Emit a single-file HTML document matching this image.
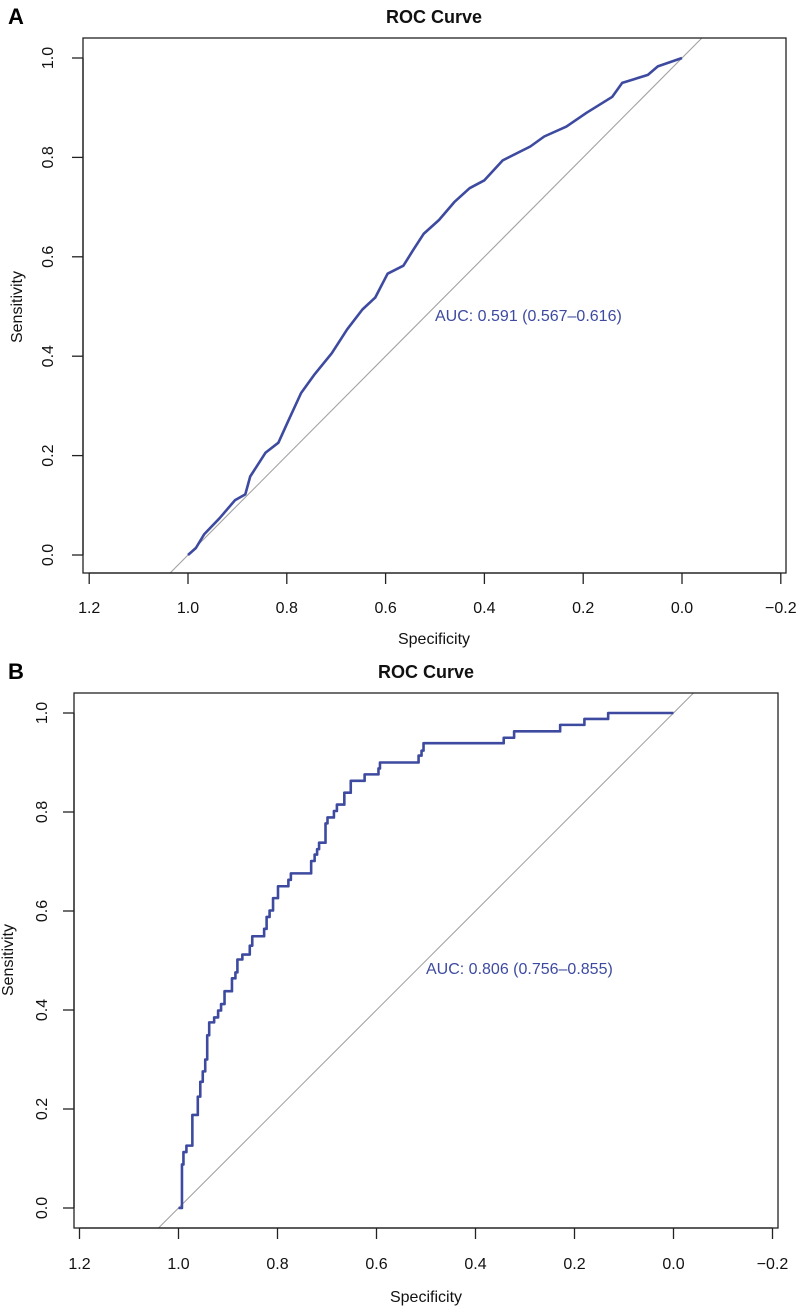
<!DOCTYPE html>
<html><head><meta charset="utf-8">
<style>
html,body{margin:0;padding:0;background:#fff;}
svg{display:block;font-family:"Liberation Sans",Arial,sans-serif;}
</style></head>
<body>
<svg id="fig" width="800" height="1306" viewBox="0 0 800 1306" xmlns="http://www.w3.org/2000/svg"></svg>
<script>
// Panel A data (specificity, sensitivity)
const specA = [1.0,0.984,0.967,0.936,0.905,0.884,0.874,0.843,0.817,0.797,0.771,0.745,0.709,0.678,0.647,0.621,0.596,0.564,0.544,0.523,0.492,0.461,0.430,0.400,0.363,0.307,0.279,0.234,0.193,0.141,0.121,0.069,0.049,0.0];
const sensA = [0.0,0.014,0.042,0.074,0.110,0.122,0.158,0.206,0.226,0.270,0.326,0.362,0.406,0.454,0.494,0.518,0.566,0.582,0.614,0.646,0.674,0.710,0.738,0.754,0.794,0.822,0.842,0.862,0.890,0.922,0.950,0.966,0.983,1.0];
// Panel B step data: horizontal to spec, then vertical to sens
const specB = [0.993,0.990,0.984,0.972,0.961,0.956,0.951,0.946,0.942,0.938,0.928,0.920,0.914,0.907,0.892,0.885,0.881,0.871,0.856,0.851,0.827,0.822,0.816,0.809,0.799,0.778,0.773,0.732,0.725,0.720,0.716,0.703,0.699,0.686,0.680,0.665,0.652,0.624,0.596,0.593,0.515,0.509,0.505,0.343,0.322,0.229,0.180,0.132,0.0];
const sensB = [0.088,0.113,0.126,0.188,0.225,0.255,0.276,0.300,0.349,0.375,0.385,0.399,0.412,0.438,0.464,0.476,0.502,0.512,0.530,0.549,0.564,0.588,0.601,0.626,0.650,0.663,0.676,0.701,0.714,0.725,0.738,0.777,0.789,0.802,0.815,0.839,0.863,0.876,0.888,0.900,0.914,0.924,0.939,0.950,0.963,0.976,0.988,1.0,1.0];
const xTicks = [1.2,1.0,0.8,0.6,0.4,0.2,0.0,-0.2];
const xTickLabels = ["1.2","1.0","0.8","0.6","0.4","0.2","0.0","\u22120.2"];
const yTicks = [0.0,0.2,0.4,0.6,0.8,1.0];
const yTickLabels = ["0.0","0.2","0.4","0.6","0.8","1.0"];

const NS="http://www.w3.org/2000/svg";
const svg=document.getElementById('fig');
function mk(tag,attrs,parent,text){const e=document.createElementNS(NS,tag);for(const k in attrs)e.setAttribute(k,attrs[k]);if(text!==undefined)e.textContent=text;(parent||svg).appendChild(e);return e;}

function panel(cfg){
  const g=mk('g',{});
  
  
  const X=v=>cfg.x0-cfg.kx*v, Y=v=>cfg.y0-cfg.ky*v;
  const clipId='clip'+cfg.id;
  const cp=mk('clipPath',{id:clipId},g);
  mk('rect',{x:cfg.bx0,y:cfg.by0,width:cfg.bx1-cfg.bx0,height:cfg.by1-cfg.by0},cp);
  // diagonal
  const d=mk('line',{x1:X(1.2),y1:Y(-0.2),x2:X(-0.2),y2:Y(1.2),stroke:'#a3a3a3','stroke-width':1.1,'clip-path':'url(#'+clipId+')'},g);
  
  
  // curve
  let p='';
  if(cfg.step){
    p='M'+X(1)+','+Y(0);
    for(let i=0;i<cfg.spec.length;i++){p+=' H'+X(cfg.spec[i])+' V'+Y(cfg.sens[i]);}
  } else {
    for(let i=0;i<cfg.spec.length;i++){p+=(i?' L':'M')+X(cfg.spec[i]).toFixed(1)+','+Y(cfg.sens[i]).toFixed(1);}
  }
  const c=mk('path',{d:p,fill:'none',stroke:'#3d4aa0','stroke-width':2.6,'stroke-linejoin':'round'},g);
  
  
  // box
  const b=mk('rect',{x:cfg.bx0,y:cfg.by0,width:cfg.bx1-cfg.bx0,height:cfg.by1-cfg.by0,fill:'none',stroke:'#222','stroke-width':1.3},g);
  
  
  // x axis
  const xa=mk('g',{},g);
  
  
  mk('line',{x1:X(1.2),x2:X(-0.2),y1:cfg.by1,y2:cfg.by1,stroke:'#222','stroke-width':1.3},xa);
  xTicks.forEach((v,i)=>{
    mk('line',{x1:X(v),x2:X(v),y1:cfg.by1,y2:cfg.by1+11,stroke:'#222','stroke-width':1.3},xa);
    const t=mk('text',{x:X(v),y:cfg.xly,'text-anchor':'middle','font-size':16,fill:'#111'},xa,xTickLabels[i]);
    
    
  });
  // y axis
  const ya=mk('g',{},g);
  
  
  mk('line',{x1:cfg.bx0,x2:cfg.bx0,y1:Y(0),y2:Y(1),stroke:'#222','stroke-width':1.3},ya);
  yTicks.forEach((v,i)=>{
    mk('line',{x1:cfg.bx0-11,x2:cfg.bx0,y1:Y(v),y2:Y(v),stroke:'#222','stroke-width':1.3},ya);
    const t=mk('text',{x:cfg.ylx,y:Y(v),'text-anchor':'middle','font-size':16,fill:'#111',transform:'rotate(-90 '+cfg.ylx+' '+Y(v)+')'},ya,yTickLabels[i]);
    
    
  });
  const tt=mk('text',{x:cfg.tx,y:cfg.ty,'text-anchor':'middle','font-size':18,'font-weight':'bold',fill:'#111'},g,'ROC Curve');
  
  
  const pl=mk('text',{x:8,y:cfg.ty+1,'font-size':22,'font-weight':'bold',fill:'#000'},g,cfg.id);
  
  
  const xt=mk('text',{x:cfg.tx,y:cfg.xty,'text-anchor':'middle','font-size':16,fill:'#111'},g,'Specificity');
  
  
  const yt=mk('text',{x:cfg.ytx,y:cfg.yty,'text-anchor':'middle','font-size':16,fill:'#111',transform:'rotate(-90 '+cfg.ytx+' '+cfg.yty+')'},g,'Sensitivity');
  
  
  const au=mk('text',{x:cfg.ax,y:cfg.ay,'font-size':16,fill:'#3d4aa0'},g,cfg.auc);
  
  
}

panel({id:'A',x0:682,kx:494,y0:555,ky:497,bx0:83,bx1:786,by0:38,by1:573,xly:613,ylx:53,tx:434,ty:23,xty:644,ytx:22,yty:307,ax:435,ay:321,
  spec:specA,sens:sensA,step:false,auc:'AUC: 0.591 (0.567\u20130.616)'});
panel({id:'B',x0:673.5,kx:495,y0:1208,ky:495,bx0:74,bx1:778,by0:693,by1:1228,xly:1269,ylx:47,tx:426,ty:678,xty:1302,ytx:13,yty:960,ax:426,ay:974,
  spec:specB,sens:sensB,step:true,auc:'AUC: 0.806 (0.756\u20130.855)'});
</script>
</body></html>
